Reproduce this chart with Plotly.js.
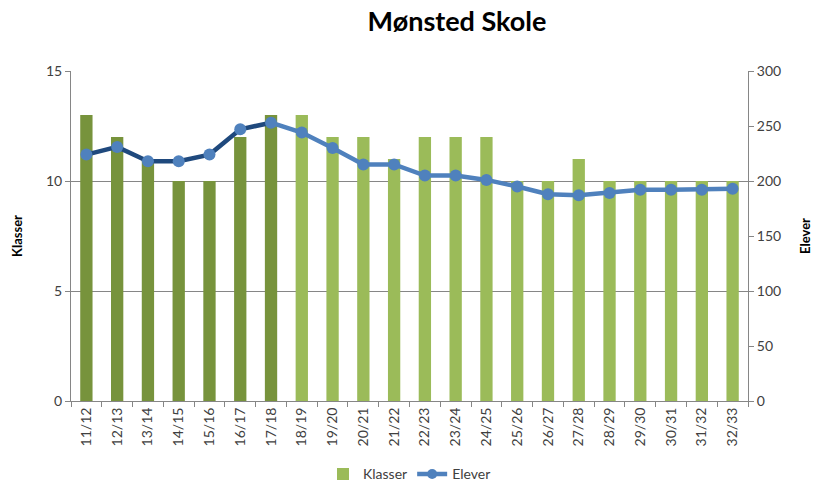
<!DOCTYPE html>
<html>
<head>
<meta charset="utf-8">
<script src="https://cdn.plot.ly/plotly-3.0.1.min.js"></script>
<style>html,body{margin:0;padding:0;background:#fff;}#chart{width:831px;height:484px;}</style>
</head>
<body>
<div id="chart"></div>
<script>
const categories = ["11/12","12/13","13/14","14/15","15/16","16/17","17/18","18/19","19/20","20/21","21/22","22/23","23/24","24/25","25/26","26/27","27/28","28/29","29/30","30/31","31/32","32/33"];
const klasser = [13,12,11,10,10,12,13,13,12,12,11,12,12,12,10,10,11,10,10,10,10,10];
const elever = [224,231,218,218,224,247,253,244,230,215,215,205,205,201,195,188,187,189,192,192,192,193];
const historicCount = 7; // first 7 school years shown in darker shades

const darkGreen = "#77933C", lightGreen = "#9BBB59";
const darkBlue = "#1F497D", lightBlue = "#4F81BD";

const barColors = categories.map((c, i) => i < historicCount ? darkGreen : lightGreen);

const traces = [
  {type: "bar", x: categories, y: klasser, marker: {color: barColors}, showlegend: false, name: "Klasser"},
  {type: "scatter", mode: "lines", x: categories.slice(0, historicCount), y: elever.slice(0, historicCount), yaxis: "y2",
   line: {color: darkBlue, width: 4.5}, showlegend: false},
  {type: "scatter", mode: "lines", x: categories.slice(historicCount - 1), y: elever.slice(historicCount - 1), yaxis: "y2",
   line: {color: lightBlue, width: 4.5}, showlegend: false},
  {type: "scatter", mode: "markers", x: categories, y: elever, yaxis: "y2",
   marker: {color: lightBlue, size: 12}, showlegend: false},
  {type: "bar", x: [null], y: [null], name: "Klasser", marker: {color: lightGreen}},
  {type: "scatter", mode: "lines+markers", x: [null], y: [null], yaxis: "y2", name: "Elever",
   line: {color: lightBlue, width: 4.5}, marker: {color: lightBlue, size: 10}}
];

const layout = {
  width: 831, height: 484,
  margin: {l: 71, r: 83, t: 71, b: 83},
  paper_bgcolor: "#fff", plot_bgcolor: "#fff",
  font: {family: "Lato, 'Liberation Sans', sans-serif", size: 14, color: "#404040"},
  title: {text: "<b>Mønsted Skole</b>", font: {size: 27, color: "#000", family: "Lato, 'Liberation Sans', sans-serif"},
          x: 0.55, xref: "container", y: 0.955, yref: "container", yanchor: "middle", automargin: false},
  barmode: "overlay",
  bargap: 0.6,
  xaxis: {type: "category", tickangle: -90, showgrid: false, showline: true, linecolor: "#868686", linewidth: 1,
          ticks: "outside", tickson: "boundaries", ticklen: 5, tickcolor: "#868686", automargin: false,
          tickfont: {size: 14, color: "#404040"}, range: [-0.5, 21.5], fixedrange: true},
  yaxis: {range: [0, 15], dtick: 5, showgrid: true, gridcolor: "#868686", gridwidth: 1, zeroline: false,
          showline: true, linecolor: "#868686", ticks: "outside", ticklen: 5, tickcolor: "#868686", automargin: false,
          tickfont: {size: 14, color: "#404040"},
          title: {text: "<b>Klasser</b>", font: {size: 13, color: "#000"}, standoff: 20}},
  yaxis2: {range: [0, 300], dtick: 50, overlaying: "y", side: "right", showgrid: false, zeroline: false,
           showline: true, linecolor: "#868686", ticks: "outside", ticklen: 5, tickcolor: "#868686", automargin: false,
           tickfont: {size: 14, color: "#404040"},
           title: {text: "<b>Elever</b>", font: {size: 13, color: "#000"}, standoff: 20}},
  legend: {orientation: "h", x: 0.5, xanchor: "center", xref: "paper", y: 0.02, yref: "container", yanchor: "middle",
           font: {size: 14, color: "#404040"}, bgcolor: "rgba(0,0,0,0)"}
};

Plotly.newPlot("chart", traces, layout, {displayModeBar: false, staticPlot: true});
</script>
</body>
</html>
